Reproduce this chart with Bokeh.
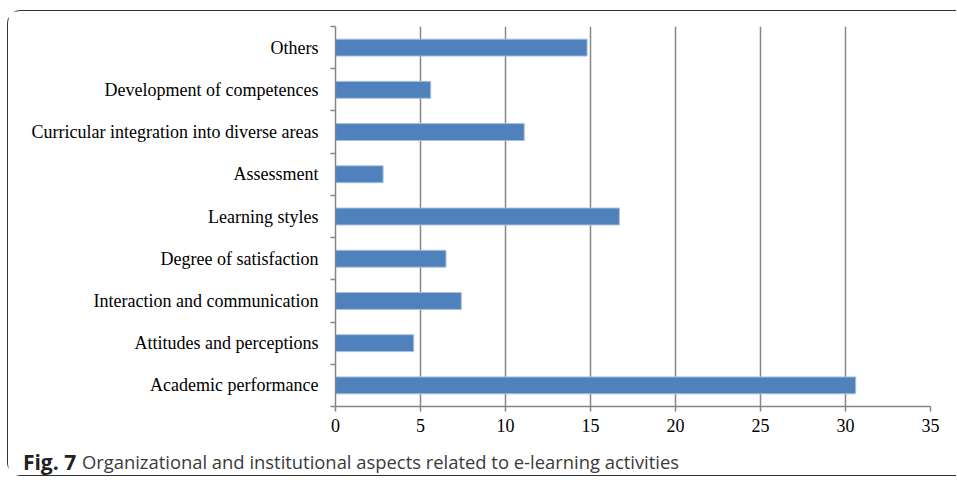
from bokeh.plotting import figure
from bokeh.layouts import column
from bokeh.models import FixedTicker, Label, Range1d
from bokeh.embed import file_html
from bokeh.resources import INLINE

categories = [
    "Academic performance",
    "Attitudes and perceptions",
    "Interaction and communication",
    "Degree of satisfaction",
    "Learning styles",
    "Assessment",
    "Curricular integration into diverse areas",
    "Development of competences",
    "Others",
]
values = [30.6, 4.6, 7.4, 6.5, 16.7, 2.8, 11.1, 5.6, 14.8]
x_ticks = [0, 5, 10, 15, 20, 25, 30, 35]
caption_bold = "Fig. 7"
caption_text = "Organizational and institutional aspects related to e-learning activities"

positions = [i + 0.5 for i in range(len(categories))]
boundaries = list(range(len(categories) + 1))

p = figure(width=948, height=426, output_backend="svg", toolbar_location=None,
           x_range=Range1d(0, 35), y_range=Range1d(0, len(categories)),
           min_border_left=327, min_border_right=26, min_border_top=15,
           min_border_bottom=31)
p.frame_align = False

p.hbar(y=positions, right=values, left=0, height=0.4, fill_color="#4F81BD",
       line_color="#A7BFDE", line_width=1)

p.outline_line_color = None
p.background_fill_color = "white"
p.border_fill_color = "white"

# x axis
p.xaxis.ticker = FixedTicker(ticks=x_ticks)
p.xaxis.axis_line_color = "#868686"
p.xaxis.axis_line_width = 1.5
p.xaxis.major_tick_line_color = "#868686"
p.xaxis.major_tick_line_width = 1.5
p.xaxis.major_tick_in = 0
p.xaxis.major_tick_out = 5
p.xaxis.minor_tick_line_color = None
p.xaxis.major_label_text_font = "Liberation Serif"
p.xaxis.major_label_text_font_size = "18px"
p.xaxis.major_label_text_color = "#000000"
p.xaxis.major_label_standoff = 7

# y axis
p.yaxis.ticker = FixedTicker(ticks=positions, minor_ticks=boundaries)
p.yaxis.major_label_overrides = {pos: cat for pos, cat in zip(positions, categories)}
p.yaxis.axis_line_color = "#868686"
p.yaxis.axis_line_width = 1.5
p.yaxis.major_tick_line_color = None
p.yaxis.major_tick_in = 0
p.yaxis.major_tick_out = 0
p.yaxis.minor_tick_line_color = "#868686"
p.yaxis.minor_tick_line_width = 1.5
p.yaxis.minor_tick_in = 0
p.yaxis.minor_tick_out = 5
p.yaxis.major_label_text_font = "Liberation Serif"
p.yaxis.major_label_text_font_size = "18px"
p.yaxis.major_label_text_color = "#000000"
p.yaxis.major_label_standoff = 12

# grid
p.xgrid.ticker = FixedTicker(ticks=x_ticks)
p.xgrid.grid_line_color = "#868686"
p.xgrid.grid_line_width = 1.5
p.ygrid.grid_line_color = None

# caption strip
c = figure(width=948, height=38, output_backend="svg", toolbar_location=None,
           x_range=Range1d(0, 1), y_range=Range1d(0, 1),
           x_axis_type=None, y_axis_type=None, min_border=0)
c.frame_align = False
c.outline_line_color = None
c.grid.visible = False
c.background_fill_color = "white"
c.border_fill_color = "white"
c.add_layout(Label(x=14.4, y=14, x_units="screen", y_units="screen", text=caption_bold,
                   text_font="Open Sans", text_font_style="bold", text_font_size="21px",
                   text_color="#222222", text_baseline="alphabetic"))
c.add_layout(Label(x=73.4, y=14, x_units="screen", y_units="screen", text=caption_text,
                   text_font="Open Sans", text_font_size="18.4px", text_color="#3a3a3a",
                   text_baseline="alphabetic"))

layout = column(p, c, spacing=0, styles={
    "margin-left": "7px", "margin-top": "10px",
    "border-left": "1.6px solid #333", "border-top": "1.6px solid #333",
    "border-bottom": "1.6px solid #333", "border-top-left-radius": "14px",
    "border-bottom-left-radius": "14px"})

open("out.html", "w").write(file_html(layout, INLINE))
